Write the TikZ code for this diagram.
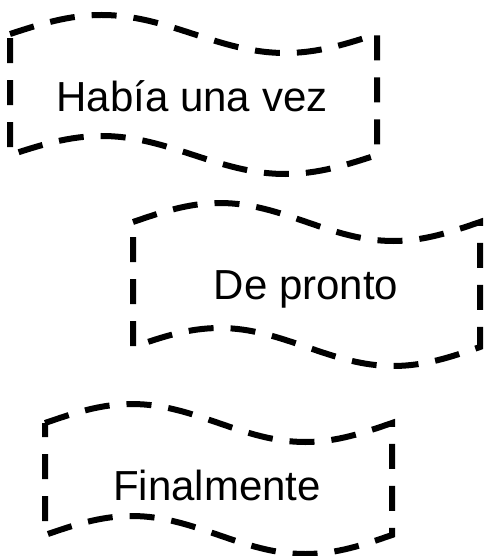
\documentclass[tikz,border=0pt]{standalone}
\usepackage{fontspec}
\setmainfont{Liberation Sans}
\usetikzlibrary{calc}

\tikzset{
  borde/.style={draw, line width=6pt, dash pattern=on 25pt off 17pt},
  texto/.style={inner sep=0pt, font=\fontsize{42}{50}\selectfont}
}
% centro, ancho, alto (entre las lineas medias de las ondas)
\newcommand{\bordecinta}[3]{%
  \draw[borde] ($#1+(-#2/2,#3/2)$) sin ++(#2/4,19pt) cos ++(#2/4,-19pt)
    sin ++(#2/4,-19pt) cos ++(#2/4,19pt) -- ++(0,-#3)
    sin ++(-#2/4,-19pt) cos ++(-#2/4,19pt) sin ++(-#2/4,19pt) cos ++(-#2/4,-19pt) -- cycle;}

\begin{document}
\begin{tikzpicture}
  \useasboundingbox (0,0) rectangle (485pt,-556pt);
  % las tres cintas del cuento
  \node[texto] (inicio) at (192pt,-96pt) {Había una vez};
  \bordecinta{(193.5pt,-94.5pt)}{367pt}{121pt}
  \node[texto] (giro) at (306pt,-289pt) {De pronto};
  \bordecinta{(306.5pt,-284.5pt)}{347pt}{125pt}
  \node[texto] (final) at (217pt,-485pt) {Finalmente};
  \bordecinta{(218.5pt,-479pt)}{347pt}{112pt}
\end{tikzpicture}
\end{document}
